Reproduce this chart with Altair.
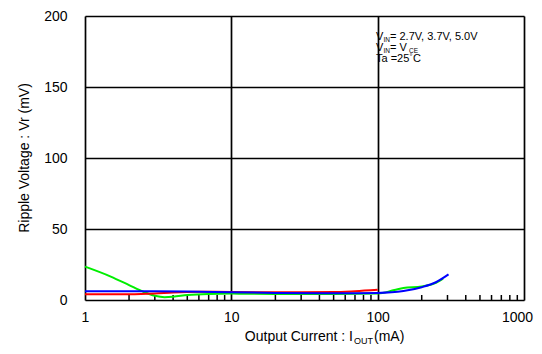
import altair as alt
import pandas as pd

# ---- data ----
red_x = [1, 2, 3, 4, 6, 10, 20, 50, 70, 100]
red_y = [4.0, 4.0, 4.5, 5.3, 5.8, 5.6, 5.5, 5.6, 6.2, 7.2]

blue_x = [1, 3, 5, 10, 20, 50, 100, 150, 200, 250, 305]
blue_y = [6.2, 6.2, 6.0, 5.5, 5.0, 4.7, 5.0, 6.3, 9.0, 12.5, 18.0]

green_x = [1, 1.5, 2, 2.5, 3, 3.5, 4, 5, 7, 10, 20, 50, 100, 130, 150, 200, 250, 280]
green_y = [23.5, 16.5, 10.5, 5.8, 3.0, 2.0, 2.3, 3.5, 4.3, 4.5, 4.3, 4.2, 4.5, 7.0, 8.5, 9.5, 12.0, 15.0]

series_names = ["green", "red", "blue"]
series_colors = ["#00ee00", "#ff0000", "#0000ff"]

x_ticks = [1, 10, 100, 1000]
y_ticks = [0, 50, 100, 150, 200]
minor_ticks = [m * d for d in (1, 10, 100) for m in range(2, 10)]

W, H = 439, 284

rows = []
for name, xs, ys in (("green", green_x, green_y), ("red", red_x, red_y), ("blue", blue_x, blue_y)):
    for i, (a, b) in enumerate(zip(xs, ys)):
        rows.append({"series": name, "x": a, "y": b, "order": i})
df = pd.DataFrame(rows)

xscale = alt.Scale(type="log", domain=[1, 1000])
yscale = alt.Scale(domain=[0, 200])

font = "Liberation Sans"

lines = alt.Chart(df).mark_line(strokeWidth=2, interpolate="monotone").encode(
    x=alt.X("x:Q", scale=xscale,
            axis=alt.Axis(values=x_ticks, format="d", title=None, ticks=False, domain=False,
                          labelPadding=10, labelFontSize=14, labelFont=font, labelColor="black",
                          labelOffset={"condition": {"test": "datum.value >= 1000", "value": -7}, "value": 0},
                          grid=True, gridColor="black", gridWidth=1.7, gridOpacity=1,
                          labelFlush=False, labelOverlap=False)),
    y=alt.Y("y:Q", scale=yscale,
            axis=alt.Axis(values=y_ticks, title=None, ticks=False, domain=False,
                          labelPadding=18, labelFontSize=14, labelFont=font, labelColor="black",
                          grid=True, gridColor="black", gridWidth=1.7, gridOpacity=1,
                          labelFlush=False)),
    color=alt.Color("series:N", scale=alt.Scale(domain=series_names, range=series_colors), legend=None),
    order="order:Q",
    detail="series:N",
)

minor_df = pd.DataFrame({"x": minor_ticks})
minor = alt.Chart(minor_df).mark_rule(color="black", strokeWidth=1.5).encode(
    x=alt.X("x:Q", scale=xscale),
    y=alt.value(H),
    y2=alt.value(H - 5),
)

def txt(s, x, y, size=14, align="left", baseline="alphabetic", angle=0):
    return alt.Chart(pd.DataFrame({"t": [s]})).mark_text(
        font=font, fontSize=size, align=align, baseline=baseline, color="black", angle=angle
    ).encode(text="t:N", x=alt.value(x), y=alt.value(y))

titles = [
    txt("Ripple Voltage : Vr (mV)", -60, 142, align="center", baseline="middle", angle=270),
    txt("Output Current : I", 268, 325, align="right"),
    txt("OUT", 269, 328, size=9),
    txt("(mA)", 289, 325),
    # annotation
    txt("V", 291, 24, size=11),
    txt("IN", 298.5, 25.5, size=6.5),
    txt("= 2.7V, 3.7V, 5.0V", 305, 24, size=11),
    txt("V", 291, 35, size=11),
    txt("IN", 298.5, 36.5, size=6.5),
    txt("= V", 305, 35, size=11),
    txt("CE", 324, 36.5, size=6.5),
    txt("Ta =25", 291, 46, size=11),
    txt("\u00b0", 324.5, 43, size=7.5),
    txt("C", 328, 46, size=11),
]

chart = alt.layer(minor, lines, *titles).properties(
    width=W, height=H,
    autosize=alt.AutoSizeParams(type="none"),
    padding={"left": 77, "top": 8, "right": 10, "bottom": 45},
).configure_view(stroke="black", strokeWidth=2).configure(background="white")

chart.save("out.html", embed_options={"renderer": "svg", "actions": False})
